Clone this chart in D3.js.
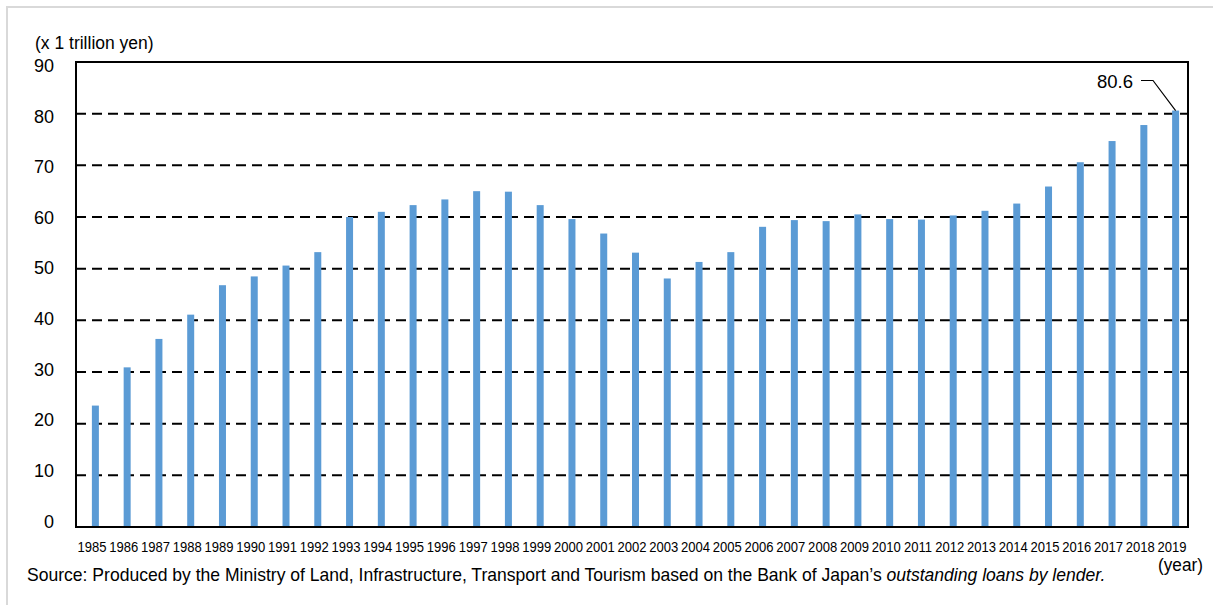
<!DOCTYPE html>
<html>
<head>
<meta charset="utf-8">
<script src="https://cdn.jsdelivr.net/npm/d3@7"></script>
<style>
  html, body { margin: 0; padding: 0; background: #fff; }
  svg { display: block; font-family: "Liberation Sans", Arial, sans-serif; }
</style>
</head>
<body>
<svg id="chart" width="1213" height="605"></svg>
<script>
// Outstanding real-estate loans, trillion yen, by year
const years = ["1985","1986","1987","1988","1989","1990","1991","1992","1993","1994",
  "1995","1996","1997","1998","1999","2000","2001","2002","2003","2004",
  "2005","2006","2007","2008","2009","2010","2011","2012","2013","2014",
  "2015","2016","2017","2018","2019"];
const loans = [23.5, 30.9, 36.4, 41.1, 46.8, 48.5, 50.6, 53.2, 60.0, 61.0,
  62.3, 63.4, 65.0, 64.9, 62.3, 59.6, 56.8, 53.1, 48.1, 51.3,
  53.2, 58.1, 59.4, 59.2, 60.5, 59.6, 59.5, 60.3, 61.2, 62.6,
  65.9, 70.6, 74.7, 77.8, 80.6];
const yTicks = [0, 10, 20, 30, 40, 50, 60, 70, 80, 90];
const calloutYear = "2019";
const calloutValue = 80.6;

const svg = d3.select("#chart");
const plot = { left: 76, top: 62, right: 1188, bottom: 527 };

// outer panel edge
svg.append("path")
  .attr("d", "M7,605V7H1213")
  .attr("fill", "none")
  .attr("stroke", "#d9d9d9")
  .attr("stroke-width", 2);

const x = d3.scaleBand().domain(years).range([plot.left, plot.right]).padding(0);
const y = d3.scaleLinear().domain([0, 90]).range([plot.bottom, plot.top]);
// tick labels sit on a slightly tighter spacing than the gridlines
const yLab = d3.scaleLinear().domain([0, 90]).range([521, 65.5]);

// dashed gridlines
svg.append("g")
  .selectAll("line")
  .data(yTicks.filter(d => d > 0 && d < 90))
  .join("line")
  .attr("x1", plot.left).attr("x2", plot.right)
  .attr("y1", d => y(d)).attr("y2", d => y(d))
  .attr("stroke", "#000")
  .attr("stroke-width", 2)
  .attr("stroke-dasharray", "10,6");

// bars: second slot of each two-slot category
const barW = 7;
svg.append("g")
  .selectAll("rect")
  .data(years.map((yr, i) => ({ yr, v: loans[i] })))
  .join("rect")
  .attr("x", d => x(d.yr) + x.bandwidth() / 2)
  .attr("y", d => y(d.v))
  .attr("width", barW)
  .attr("height", d => y(0) - y(d.v))
  .attr("fill", "#5b9bd5");

// frame
svg.append("rect")
  .attr("x", plot.left).attr("y", plot.top)
  .attr("width", plot.right - plot.left)
  .attr("height", plot.bottom - plot.top)
  .attr("fill", "none")
  .attr("stroke", "#000")
  .attr("stroke-width", 2);

// y tick labels
svg.append("g")
  .selectAll("text")
  .data(yTicks)
  .join("text")
  .attr("x", 54)
  .attr("y", d => yLab(d) + 6.5)
  .attr("text-anchor", "end")
  .attr("font-size", 18)
  .attr("fill", "#000")
  .text(d => d);

// x axis year labels (condensed)
svg.append("g")
  .selectAll("text")
  .data(years)
  .join("text")
  .attr("transform", d => `translate(${x(d) + x.bandwidth() / 2},552) scale(0.87,1)`)
  .attr("text-anchor", "middle")
  .attr("font-size", 15)
  .attr("fill", "#000")
  .text(d => d);

// unit label
svg.append("text")
  .attr("x", 35).attr("y", 48.5)
  .attr("font-size", 17.5)
  .attr("fill", "#000")
  .text("(x 1 trillion yen)");

svg.append("text")
  .attr("transform", "translate(1158,571) scale(0.93,1)")
  .attr("font-size", 18.5)
  .attr("fill", "#000")
  .text("(year)");

// callout for the latest value
const cx = x(calloutYear) + x.bandwidth() / 2 + barW / 2;
const cy = y(calloutValue);
svg.append("path")
  .attr("d", `M1141,80.5H1153L${cx},${cy}`)
  .attr("fill", "none")
  .attr("stroke", "#000")
  .attr("stroke-width", 1.2);
svg.append("text")
  .attr("x", 1133).attr("y", 88)
  .attr("text-anchor", "end")
  .attr("font-size", 18.5)
  .attr("fill", "#000")
  .text(calloutValue.toFixed(1));

// source note
const src = svg.append("text")
  .attr("font-size", 19)
  .attr("fill", "#000");
src.append("tspan").text("Source: Produced by the Ministry of Land, Infrastructure, Transport and Tourism based on the Bank of Japan\u2019s ");
src.append("tspan").attr("font-style", "italic").text("outstanding loans by lender.");
const srcW = src.node().getComputedTextLength();
src.attr("transform", `translate(27,581) scale(${1079 / srcW},1)`);
</script>
</body>
</html>
